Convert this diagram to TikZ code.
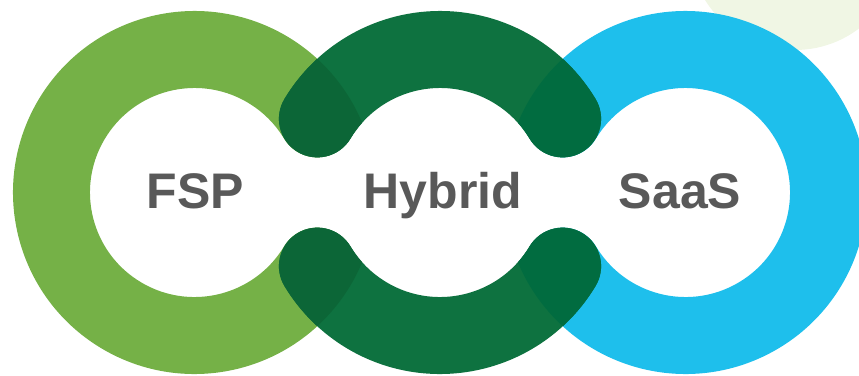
\documentclass[tikz,border=0pt]{standalone}
\usepackage{fontspec}
\setmainfont{Liberation Sans}
\usetikzlibrary{positioning}
\definecolor{fspgreen}{HTML}{75B147}
\definecolor{hybgreen}{HTML}{0E7240}
\definecolor{hybfsp}{HTML}{0C6637}
\definecolor{hybsaas}{HTML}{016C40}
\definecolor{saasblue}{HTML}{1EBFEC}
\definecolor{paleblob}{HTML}{F0F6E4}
\definecolor{labelgray}{HTML}{595959}

\begin{document}
\begin{tikzpicture}[x=1pt,y=-1pt,line join=round]
\tikzset{ring/.style={line width=77pt,line cap=round},
  tag/.style={font=\bfseries\fontsize{50}{60}\selectfont,text=labelgray,anchor=base,inner sep=0pt}}
\useasboundingbox (0,0) rectangle (859,375);
\clip (0,0) rectangle (859,375);
\coordinate (fsp) at (194.5,192.5);
\coordinate (hyb) at (440,192.5);
\coordinate (saas) at (685.5,192.5);
% pale disc in the corner
\fill[paleblob] (795,-56) circle[radius=106];
% outer rings
\draw[ring,fspgreen] ([shift={(31:143)}]fsp) arc[start angle=31,end angle=329,radius=143];
\draw[ring,saasblue] ([shift={(149:143)}]saas) arc[start angle=149,end angle=-149,radius=143];
% middle ring halves
\foreach \a in {31,211}
\draw[ring,hybgreen] ([shift={(\a:143)}]hyb) arc[start angle=\a,delta angle=118,radius=143];
% overlaps
\begin{scope}
\clip (fsp) circle[radius=181.5];
\foreach \a in {31,211}
\draw[ring,hybfsp] ([shift={(\a:143)}]hyb) arc[start angle=\a,delta angle=118,radius=143];
\end{scope}
\begin{scope}
\clip (saas) circle[radius=181.5];
\foreach \a in {31,211}
\draw[ring,hybsaas] ([shift={(\a:143)}]hyb) arc[start angle=\a,delta angle=118,radius=143];
\end{scope}
% labels
\node[tag] (fsplabel) at (195.5,208) {FSP};
\node[tag] (hyblabel) at (443,208) {Hybrid};
\node[tag] (saaslabel) at (680,208) {SaaS};
\end{tikzpicture}
\end{document}
